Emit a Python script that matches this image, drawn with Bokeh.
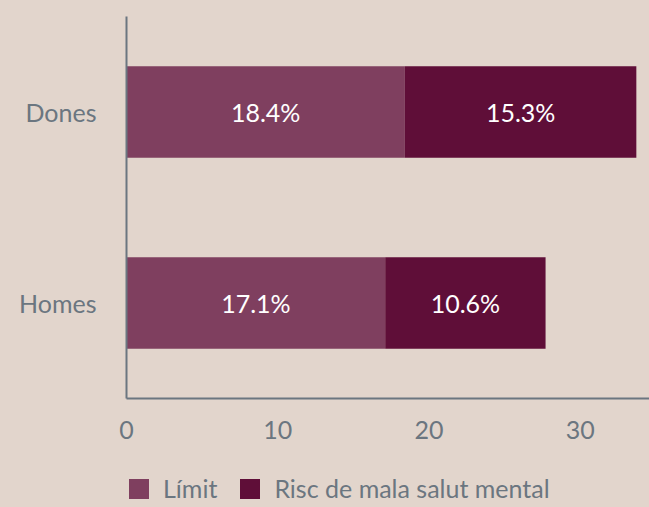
from bokeh.plotting import figure
from bokeh.models import ColumnDataSource, FactorRange, Range1d, Legend, LegendItem, LabelSet, FixedTicker
from bokeh.layouts import column
from bokeh.core.properties import value
from bokeh.embed import file_html
from bokeh.resources import INLINE
import numpy as np

groups = ["Homes", "Dones"]
limit_vals = [17.1, 18.4]
risk_vals = [10.6, 15.3]
series_names = ["Límit", "Risc de mala salut mental"]
x_ticks = [0, 10, 20, 30]

BG = "#e2d5cc"
C1 = "#7f3f5f"
C2 = "#5f0e38"
GRAY = "#6b7680"
FONT = "Lato"
FS = "25px"

lim = np.array(limit_vals)
risk = np.array(risk_vals)
src = ColumnDataSource(dict(
    g=groups, lim=limit_vals, risk=risk_vals,
    lim_end=list(lim), risk_end=list(lim + risk),
    lim_mid=list(lim / 2), risk_mid=list(lim + risk / 2),
    lim_lab=[f"{v:.1f}%" for v in limit_vals],
    risk_lab=[f"{v:.1f}%" for v in risk_vals],
))

p = figure(width=649, height=460, output_backend="svg", toolbar_location=None,
           y_range=FactorRange(factors=groups),
           x_range=Range1d(0, 34.57),
           min_border_left=126, min_border_top=16, min_border_right=0, min_border_bottom=62)
p.background_fill_color = BG
p.border_fill_color = BG
p.outline_line_color = None
p.grid.grid_line_color = None

r1 = p.hbar(y="g", left=0, right="lim_end", height=0.48, source=src, fill_color=C1, line_color=None)
r2 = p.hbar(y="g", left="lim_end", right="risk_end", height=0.48, source=src, fill_color=C2, line_color=None)

for xcol, tcol in [("lim_mid", "lim_lab"), ("risk_mid", "risk_lab")]:
    ls = LabelSet(x=xcol, y="g", text=tcol, source=src, text_align="center", text_baseline="middle",
                  text_color="white", text_font=value(FONT), text_font_size=FS)
    p.add_layout(ls)

for ax in (p.xaxis[0], p.yaxis[0]):
    ax.axis_line_color = GRAY
    ax.axis_line_width = 2
    ax.major_tick_line_color = None
    ax.minor_tick_line_color = None
    ax.major_tick_out = 0
    ax.major_tick_in = 0
    ax.major_label_text_color = GRAY
    ax.major_label_text_font = FONT
    ax.major_label_text_font_size = FS
p.xaxis.ticker = FixedTicker(ticks=x_ticks)
p.xaxis.major_label_standoff = 22
p.yaxis.major_label_standoff = 30

# legend strip below the chart (its renderers hold one NaN row, so only legend swatches show)
lf = figure(width=649, height=47, output_backend="svg", toolbar_location=None,
            x_axis_type=None, y_axis_type=None,
            min_border_left=0, min_border_right=0, min_border_top=0, min_border_bottom=0)
lf.background_fill_color = BG
lf.border_fill_color = BG
lf.outline_line_color = None
lf.grid.grid_line_color = None
nan_src = ColumnDataSource(dict(y=[np.nan], l=[np.nan], r=[np.nan]))
lr1 = lf.hbar(y="y", left="l", right="r", height=1, source=nan_src, fill_color=C1, line_color=None)
lr2 = lf.hbar(y="y", left="l", right="r", height=1, source=nan_src, fill_color=C2, line_color=None)

legend = Legend(items=[LegendItem(label=series_names[0], renderers=[lr1]),
                       LegendItem(label=series_names[1], renderers=[lr2])],
                orientation="horizontal", location=(0, 4),
                background_fill_alpha=0, border_line_color=None,
                glyph_width=25, glyph_height=25, label_standoff=12, spacing=20,
                padding=0, margin=0,
                label_text_font=FONT, label_text_font_size=FS, label_text_color=GRAY)
lf.add_layout(legend, "center")

layout = column(p, lf, spacing=0, styles={"background-color": BG})
open("out.html", "w").write(file_html(layout, INLINE))
